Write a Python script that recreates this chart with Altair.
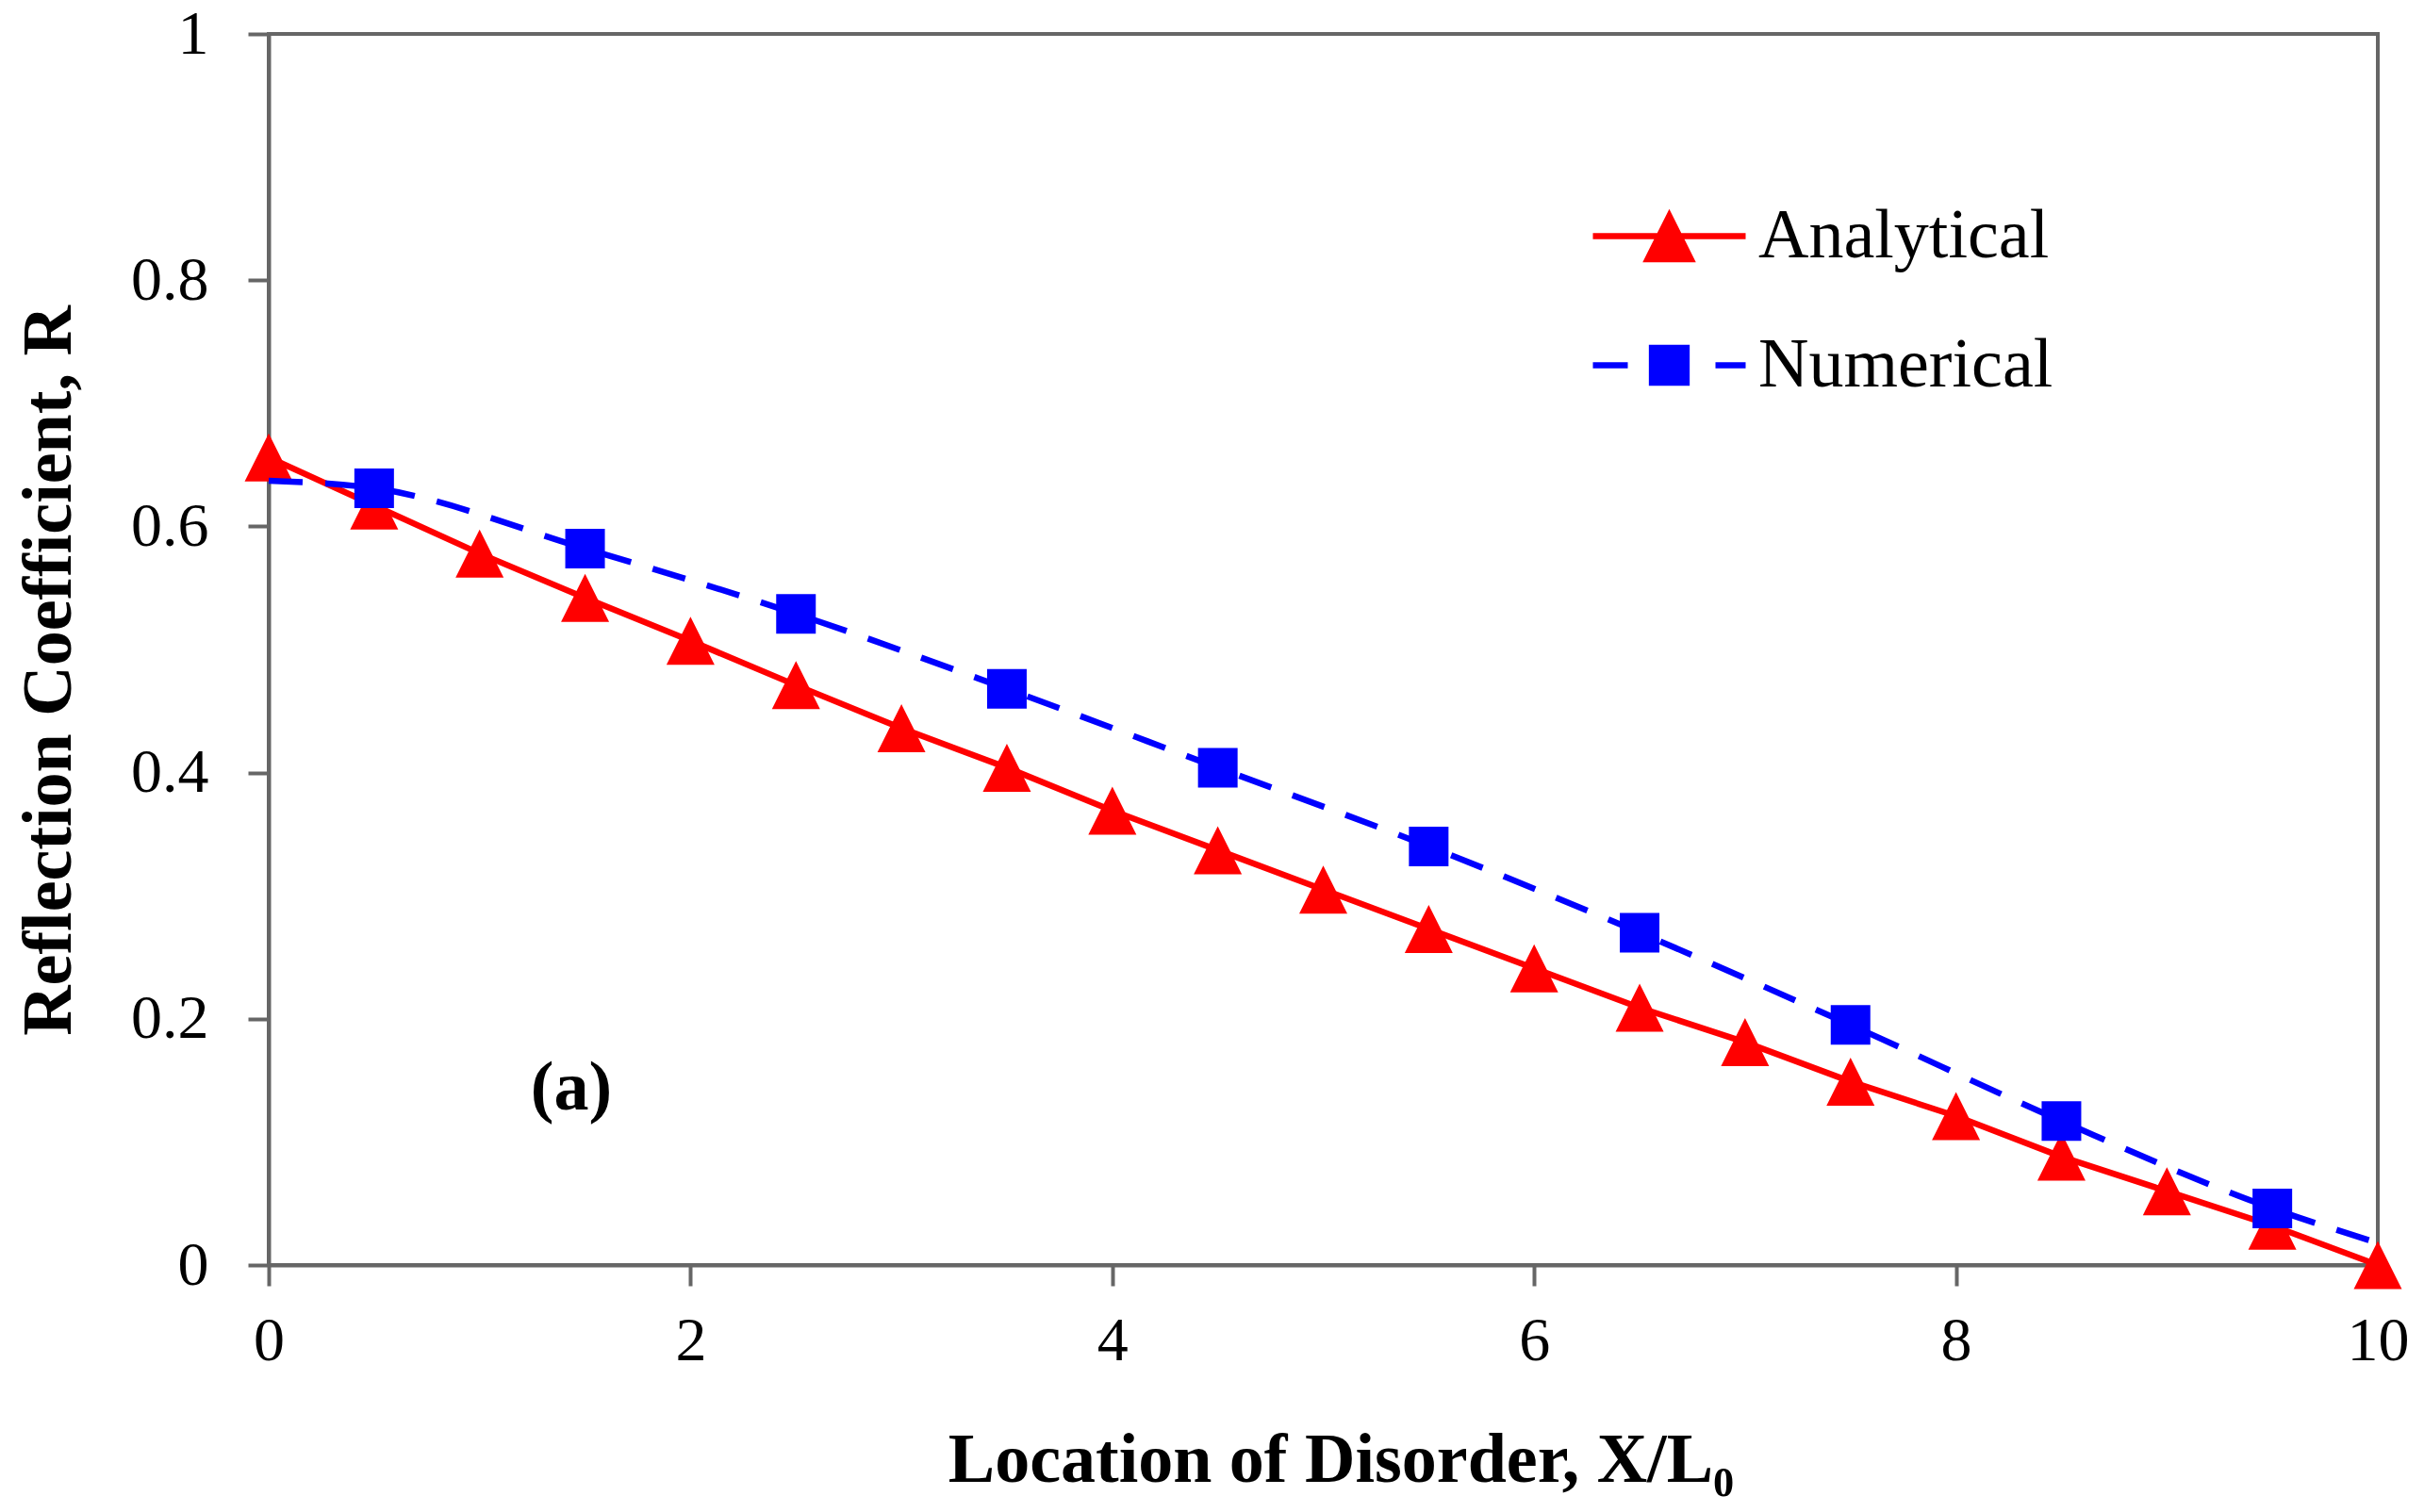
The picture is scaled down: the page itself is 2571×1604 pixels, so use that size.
import altair as alt
import pandas as pd

# ---- data ----
x_analytical = [0, 0.5, 1, 1.5, 2, 2.5, 3, 3.5, 4, 4.5, 5, 5.5, 6, 6.5, 7, 7.5, 8, 8.5, 9, 9.5, 10]
r_analytical = [0.656, 0.617, 0.578, 0.542, 0.507, 0.471, 0.436, 0.404, 0.369, 0.337, 0.305,
                0.273, 0.241, 0.209, 0.181, 0.149, 0.121, 0.088, 0.060, 0.032, 0.0]

x_numerical = [0.5, 1.5, 2.5, 3.5, 4.5, 5.5, 6.5, 7.5, 8.5, 9.5]
r_numerical = [0.631, 0.582, 0.529, 0.468, 0.404, 0.340, 0.270, 0.195, 0.117, 0.046]

x_numerical_line = [0] + x_numerical + [10]
r_numerical_line = [0.637] + r_numerical + [0.018]

series_names = ["Analytical", "Numerical"]
series_colors = ["#FF0000", "#0000FF"]

x_ticks = [0, 2, 4, 6, 8, 10]
y_ticks = [0, 0.2, 0.4, 0.6, 0.8, 1]

panel_label = ["(a)"]
panel_label_x = [1.435]
panel_label_y = [0.143]

# ---- tables ----
df_an = pd.DataFrame({"x": x_analytical, "r": r_analytical, "series": series_names[0]})
df_num = pd.DataFrame({"x": x_numerical, "r": r_numerical, "series": series_names[1]})
df_num_line = pd.DataFrame({"x": x_numerical_line, "r": r_numerical_line, "series": series_names[1]})
df_all = pd.concat([df_an, df_num], ignore_index=True)
df_label = pd.DataFrame({"x": panel_label_x, "r": panel_label_y, "t": panel_label})

SERIF = "Liberation Serif"
GRAY = "#666666"

x_enc = alt.X(
    "x:Q",
    scale=alt.Scale(domain=[0, 10], nice=False, zero=False),
    axis=alt.Axis(
        values=x_ticks, format="d", title="Location of Disorder, X/L₀",
        titleFont=SERIF, titleFontSize=74, titleFontWeight="bold", titleColor="black",
        titleBaseline="alphabetic", titleAlign="center", titleX=1137, titleY=229,
        labelFont=SERIF, labelFontSize=66, labelColor="black", labelFlush=False,
        labelBaseline="alphabetic", labelPadding=78, labelOverlap=False,
        tickSize=22, tickWidth=4, tickColor=GRAY, domainColor=GRAY, domainWidth=4, grid=False,
    ),
)
y_enc = alt.Y(
    "r:Q",
    scale=alt.Scale(domain=[0, 1], nice=False),
    axis=alt.Axis(
        values=y_ticks, format="~g", title="Reflection Coefficient, R",
        titleFont=SERIF, titleFontSize=74, titleFontWeight="bold", titleColor="black",
        titleBaseline="alphabetic", titleAlign="center", titleAngle=270, titleX=-211, titleY=675,
        labelFont=SERIF, labelFontSize=66, labelColor="black", labelPadding=42, labelOverlap=False,
        tickSize=22, tickWidth=4, tickColor=GRAY, domainColor=GRAY, domainWidth=4, grid=False,
    ),
)

tri_path = "M0,-1L1,1L-1,1Z"

line_an = alt.Chart(df_an).mark_line(color=series_colors[0], strokeWidth=6.5).encode(x=x_enc, y=y_enc)
pts_an = alt.Chart(df_an).mark_point(filled=True, opacity=1, strokeWidth=0).encode(
    x=x_enc, y=y_enc,
    shape=alt.value(tri_path), fill=alt.value(series_colors[0]), size=alt.value(2601),
)
line_num = alt.Chart(df_num_line).mark_line(
    color=series_colors[1], strokeWidth=6.5, strokeDash=[36, 24], interpolate="monotone"
).encode(x=x_enc, y=y_enc)
pts_num = alt.Chart(df_num).mark_point(filled=True, opacity=1, strokeWidth=0).encode(
    x=x_enc, y=y_enc,
    shape=alt.value("square"), fill=alt.value(series_colors[1]), size=alt.value(1764),
)

legend_an = "M-2.025,0H2.025M0,-0.54L0.575,0.61L-0.575,0.61Z"
legend_num = "M-2.025,0H-1.1M1.225,0H2.025M-0.46,-0.46H0.46V0.46H-0.46Z"

leg = alt.Legend(
    title=None, orient="none", legendX=1442, legendY=171, direction="vertical",
    symbolSize=6400, symbolStrokeWidth=6.5, symbolOpacity=1,
    labelFont=SERIF, labelFontSize=74, labelColor="black", labelOffset=51, labelLimit=1000,
    rowPadding=56, padding=0,
)
legend_layer = alt.Chart(df_all).mark_point(opacity=0).encode(
    x=x_enc, y=y_enc,
    fill=alt.Fill("series:N", scale=alt.Scale(domain=series_names, range=series_colors), legend=leg),
    stroke=alt.Stroke("series:N", scale=alt.Scale(domain=series_names, range=series_colors), legend=leg),
    shape=alt.Shape("series:N", scale=alt.Scale(domain=series_names, range=[legend_an, legend_num]), legend=leg),
)

label = alt.Chart(df_label).mark_text(
    font=SERIF, fontSize=74, fontWeight="bold", color="black", align="center", baseline="middle"
).encode(x=x_enc, y=y_enc, text="t:N")

chart = (
    alt.layer(line_an, pts_an, line_num, pts_num, legend_layer, label)
    .properties(
        width=2237, height=1306,
        padding={"left": 277, "top": 28, "right": 41, "bottom": 254},
        autosize=alt.AutoSizeParams(type="none"),
        background="white",
    )
    .configure_view(stroke=GRAY, strokeWidth=4)
)

chart.save("out.html", embed_options={"renderer": "svg", "actions": False})
